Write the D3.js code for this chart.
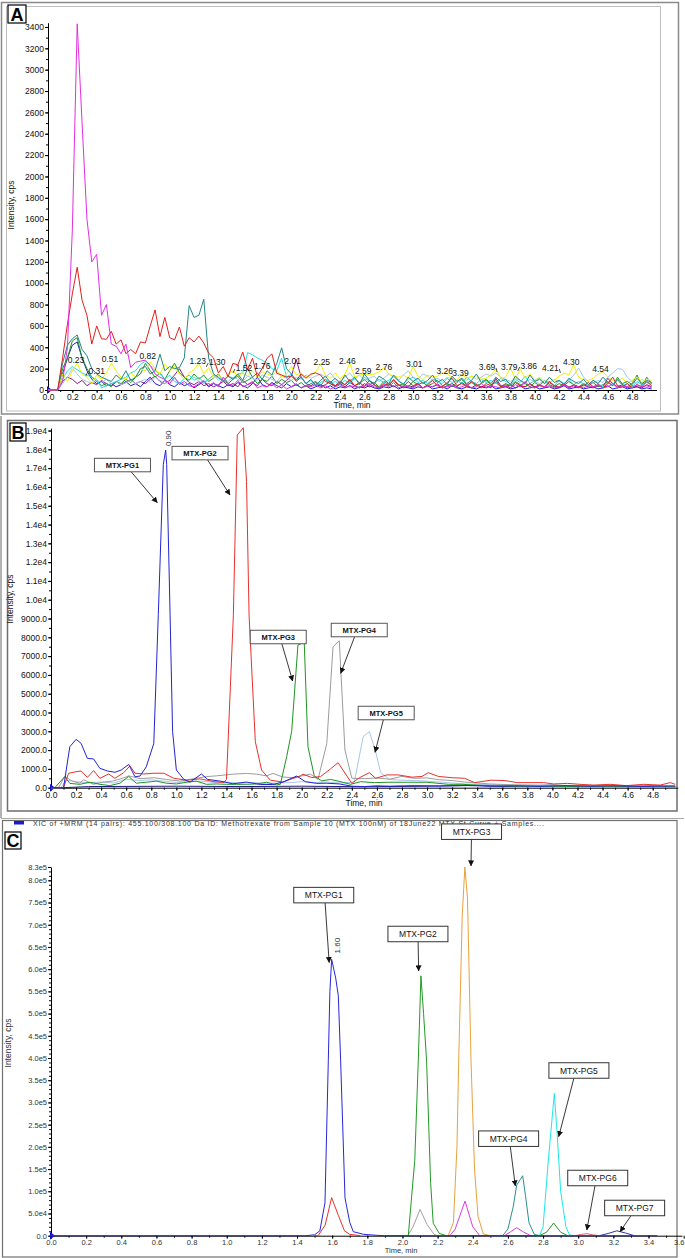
<!DOCTYPE html>
<html>
<head>
<meta charset="utf-8">
<script src="https://cdn.jsdelivr.net/npm/d3@7"></script>
<style>
  body { margin: 0; background: #fff; }
  svg text { font-family: "Liberation Sans", Arial, sans-serif; }
</style>
</head>
<body>
<svg id="fig" width="685" height="1258"></svg>
<script>
// Three XIC chromatogram panels (A: blank noise, B: MTX-PG1..5, C: MTX-PG1..7)

// ---------- Panel A : sampled every 0.04 min ----------
const stepA = 0.04;
const timeA = d3.range(125).map(i => +(i * stepA).toFixed(2));

const magentaA = [
  0, 0, 0, 80, 400, 1500, 3430, 2500, 1600, 1200,
  1270, 700, 800, 430, 410, 340, 430, 210, 260, 270,
  280, 230, 150, 120, 100, 60, 120, 50, 80, 40,
  30, 60, 90, 40, 70, 30, 120, 60, 40, 90,
  30, 50, 80, 20, 40, 30, 60, 20, 50, 10,
  30, 60, 20, 40, 30, 50, 20, 40, 10, 30,
  50, 20, 40, 30, 20, 40, 60, 30, 20, 50,
  30, 70, 20, 40, 30, 20, 50, 20, 40, 30,
  60, 20, 30, 40, 20, 30, 50, 20, 30, 60,
  20, 40, 30, 20, 40, 20, 50, 30, 80, 30,
  20, 50, 30, 40, 20, 30, 50, 20, 40, 30,
  20, 40, 30, 50, 20, 30, 60, 20, 40, 30,
  20, 50, 30, 40, 20
];
const redA = [
  0, 0, 0, 300, 620, 900, 1150, 840, 700, 430,
  600, 480, 475, 550, 430, 470, 340, 380, 340, 450,
  440, 600, 750, 500, 680, 490, 470, 590, 410, 490,
  450, 505, 440, 345, 300, 160, 220, 125, 250, 234,
  356, 190, 297, 125, 203, 297, 338, 156, 140, 120,
  130, 90, 150, 110, 150, 160, 140, 80, 60, 40,
  80, 50, 100, 40, 70, 30, 90, 50, 20, 60,
  40, 100, 50, 30, 80, 40, 60, 20, 50, 90,
  40, 30, 70, 110, 40, 60, 30, 80, 50, 20,
  60, 40, 90, 30, 50, 20, 70, 40, 30, 60,
  30, 50, 20, 80, 40, 30, 60, 20, 50, 30,
  40, 70, 30, 50, 20, 60, 120, 40, 30, 60,
  20, 50, 30, 80, 40
];
const tealA = [
  0, 0, 0, 250, 420, 480, 515, 380, 320, 200,
  150, 120, 100, 80, 140, 100, 180, 90, 120, 200,
  220, 150, 180, 335, 180, 220, 200, 210, 300, 790,
  680, 700, 850, 300, 150, 120, 80, 130, 100, 150,
  90, 200, 120, 160, 100, 180, 140, 250, 395, 200,
  150, 80, 120, 60, 100, 40, 90, 130, 70, 110,
  60, 140, 80, 120, 50, 150, 90, 60, 130, 100,
  60, 140, 90, 50, 120, 80, 110, 60, 90, 140,
  70, 100, 50, 130, 80, 110, 60, 90, 150, 70,
  100, 60, 120, 80, 100, 50, 130, 90, 60, 140,
  80, 100, 60, 120, 70, 90, 50, 110, 80, 60,
  100, 50, 90, 60, 120, 70, 40, 100, 60, 80,
  50, 110, 60, 90, 70
];
const yellowA = [
  0, 0, 0, 150, 80, 180, 250, 150, 120, 60,
  140, 100, 160, 250, 180, 120, 100, 160, 120, 200,
  180, 260, 200, 150, 240, 180, 220, 150, 100, 160,
  190, 250, 150, 210, 110, 140, 100, 150, 180, 130,
  160, 130, 180, 120, 170, 150, 130, 180, 120, 150,
  220, 140, 160, 120, 140, 170, 240, 140, 110, 160,
  100, 150, 250, 120, 140, 150, 140, 150, 170, 210,
  150, 130, 120, 140, 110, 220, 130, 100, 140, 120,
  130, 160, 150, 120, 90, 150, 110, 130, 120, 100,
  110, 140, 200, 110, 120, 210, 100, 200, 110, 150,
  90, 120, 80, 110, 90, 130, 160, 140, 235, 120,
  100, 90, 110, 150, 170, 120, 90, 80, 110, 60,
  90, 120, 70, 100, 90
];
const cyanA = [
  0, 0, 0, 100, 180, 220, 190, 160, 140, 120,
  100, 20, 40, 60, 80, 100, 120, 160, 180, 240,
  270, 230, 180, 150, 100, 140, 80, 60, 110, 140,
  90, 120, 70, 100, 140, 110, 90, 130, 110, 150,
  160, 350, 330, 300, 280, 250, 200, 180, 300, 120,
  150, 100, 120, 60, 90, 40, 70, 100, 60, 80,
  50, 90, 60, 110, 70, 120, 80, 60, 100, 70,
  90, 130, 80, 60, 100, 120, 70, 90, 60, 100,
  80, 60, 110, 70, 90, 60, 120, 80, 60, 100,
  70, 90, 60, 110, 80, 60, 100, 70, 130, 60,
  90, 110, 60, 80, 40, 90, 60, 100, 50, 80,
  60, 40, 90, 60, 30, 70, 50, 90, 40, 60,
  30, 80, 50, 70, 60
];
const lightBlueA = [
  0, 0, 0, 60, 120, 200, 150, 100, 80, 60,
  90, 70, 100, 60, 80, 50, 70, 90, 60, 80,
  100, 70, 120, 90, 60, 80, 110, 70, 60, 90,
  120, 80, 60, 100, 140, 90, 110, 80, 120, 100,
  80, 130, 110, 90, 140, 120, 100, 80, 130, 110,
  90, 120, 100, 140, 110, 130, 150, 120, 160, 100,
  80, 120, 160, 100, 140, 90, 110, 130, 80, 110,
  150, 120, 90, 140, 180, 120, 100, 150, 130, 90,
  110, 80, 120, 100, 70, 110, 90, 130, 100, 120,
  150, 130, 160, 120, 100, 80, 110, 90, 70, 100,
  80, 60, 90, 70, 100, 80, 60, 90, 140, 205,
  120, 80, 60, 90, 70, 120, 160, 200, 195, 120,
  80, 60, 100, 70, 50
];
const greenA = [
  0, 0, 0, 200, 300, 460, 490, 300, 200, 120,
  80, 40, 60, 30, 80, 60, 100, 70, 120, 150,
  250, 180, 120, 160, 100, 180, 250, 160, 120, 90,
  150, 100, 140, 80, 110, 150, 90, 60, 100, 130,
  70, 90, 120, 60, 100, 80, 130, 60, 100, 70,
  90, 40, 70, 30, 60, 80, 40, 100, 60, 30,
  70, 50, 90, 40, 60, 100, 50, 70, 30, 80,
  50, 90, 40, 60, 30, 80, 50, 70, 40, 60,
  90, 40, 60, 30, 70, 100, 50, 70, 40, 60,
  90, 50, 70, 30, 60, 40, 80, 50, 60, 30,
  70, 40, 90, 50, 30, 60, 40, 80, 50, 30,
  60, 40, 70, 30, 50, 80, 40, 120, 50, 30,
  60, 140, 40, 120, 60
];
const blueA = [
  0, 0, 0, 150, 300, 420, 450, 300, 180, 100,
  60, 80, 40, 60, 30, 50, 80, 40, 60, 30,
  80, 120, 60, 40, 90, 50, 30, 70, 40, 60,
  20, 50, 80, 30, 60, 40, 20, 50, 30, 70,
  40, 20, 60, 120, 50, 30, 70, 40, 20, 60,
  30, 50, 20, 40, 10, 30, 50, 20, 40, 10,
  30, 20, 40, 10, 30, 20, 40, 20, 10, 30,
  20, 40, 10, 30, 20, 10, 30, 20, 40, 10,
  20, 30, 10, 40, 20, 10, 30, 20, 10, 30,
  20, 40, 10, 20, 30, 10, 20, 40, 10, 20,
  30, 10, 20, 30, 10, 20, 40, 10, 20, 30,
  10, 20, 30, 10, 20, 40, 10, 20, 30, 10,
  20, 30, 10, 20, 10
];
const purpleA = [
  0, 0, 0, 80, 120, 100, 60, 90, 40, 70,
  50, 90, 60, 40, 80, 50, 70, 100, 60, 80,
  60, 100, 130, 80, 60, 90, 140, 200, 120, 70,
  50, 80, 40, 60, 30, 50, 80, 40, 60, 30,
  90, 50, 70, 40, 100, 60, 40, 80, 50, 90,
  130, 285, 120, 60, 40, 70, 30, 50, 80, 40,
  60, 30, 70, 40, 20, 60, 30, 50, 20, 40,
  60, 30, 50, 20, 40, 30, 60, 20, 40, 30,
  50, 20, 40, 60, 30, 70, 40, 20, 50, 30,
  40, 20, 110, 40, 30, 50, 20, 40, 30, 60,
  20, 40, 30, 70, 40, 20, 50, 30, 40, 20,
  50, 30, 20, 40, 30, 110, 60, 30, 50, 20,
  40, 30, 20, 50, 30
];

// retention-time labels of panel A: [text, label height in cps]
const peakLabelsA = [
  ['0.23', 253], ['0.31', 150], ['0.51', 262], ['0.82', 290], ['1.23', 244],
  ['1.30', 234], ['1.52', 178], ['1.76', 197], ['2.01', 244], ['2.25', 234],
  ['2.46', 244], ['2.59', 150], ['2.76', 187], ['3.01', 215], ['3.26', 150],
  ['3.39', 131], ['3.69', 187], ['3.79', 187], ['3.86', 197], ['4.21', 178],
  ['4.30', 234], ['4.54', 169]
];

const yTicksA = [0, 200, 400, 600, 800, 1000, 1200, 1400, 1600, 1800, 2000, 2200, 2400, 2600, 2800, 3000, 3200, 3400];
const yTickLabelsA = ['0', '200', '400', '600', '800', '1000', '1200', '1400', '1600', '1800', '2000', '2200', '2400', '2600', '2800', '3000', '3200', '3400'];
const xTicksAB = [0, 0.2, 0.4, 0.6, 0.8, 1.0, 1.2, 1.4, 1.6, 1.8, 2.0, 2.2, 2.4, 2.6, 2.8, 3.0, 3.2, 3.4, 3.6, 3.8, 4.0, 4.2, 4.4, 4.6, 4.8];
const xTickLabelsAB = ['0.0', '0.2', '0.4', '0.6', '0.8', '1.0', '1.2', '1.4', '1.6', '1.8', '2.0', '2.2', '2.4', '2.6', '2.8', '3.0', '3.2', '3.4', '3.6', '3.8', '4.0', '4.2', '4.4', '4.6', '4.8'];

// ---------- Panel B : [time, cps] ----------
const blueB = [[0, 0], [0.1, 0], [0.15, 2180], [0.2, 2570], [0.24, 2360], [0.29, 1560], [0.34, 1530], [0.39, 1030],
  [0.45, 890], [0.51, 820], [0.56, 940], [0.62, 1240], [0.67, 580], [0.71, 620], [0.76, 1110], [0.82, 2350],
  [0.856, 9200], [0.896, 17200], [0.915, 17960], [0.923, 17200], [0.95, 9200], [0.97, 3000], [1.0, 940],
  [1.06, 440], [1.11, 300], [1.2, 730], [1.25, 440], [1.35, 350], [1.45, 210], [1.56, 300], [1.67, 170],
  [1.77, 170], [1.85, 300], [1.96, 620], [2.03, 320], [2.12, 230], [2.2, 240], [2.3, 200], [2.4, 80],
  [2.5, 60], [2.6, 100], [2.7, 80], [2.9, 110], [3.1, 90], [3.3, 120], [3.5, 80], [3.7, 100], [3.9, 70],
  [4.1, 110], [4.3, 80], [4.5, 100], [4.7, 70], [4.98, 90]];
const redB = [[0, 0], [0.1, 0], [0.14, 765], [0.2, 850], [0.24, 890], [0.29, 550], [0.34, 910], [0.39, 500],
  [0.46, 730], [0.51, 500], [0.58, 800], [0.63, 1160], [0.67, 770], [0.74, 730], [0.82, 770], [0.9, 770],
  [0.98, 500], [1.08, 400], [1.19, 470], [1.3, 320], [1.38, 280], [1.4, 440], [1.455, 9200], [1.486, 18760],
  [1.534, 19150], [1.56, 16300], [1.58, 9200], [1.63, 2450], [1.68, 940], [1.75, 400], [1.85, 300],
  [1.99, 630], [2.01, 720], [2.08, 540], [2.15, 590], [2.23, 1000], [2.29, 1330], [2.4, 230], [2.46, 530],
  [2.54, 800], [2.59, 500], [2.68, 680], [2.77, 680], [2.88, 560], [2.96, 600], [3.01, 800], [3.09, 600],
  [3.2, 530], [3.3, 500], [3.38, 270], [3.43, 320], [3.51, 400], [3.62, 380], [3.72, 270], [3.83, 270],
  [3.93, 270], [4.01, 200], [4.12, 230], [4.22, 180], [4.33, 140], [4.46, 180], [4.59, 110], [4.73, 180],
  [4.86, 140], [4.94, 270], [4.98, 180]];
const greenB = [[0, 0], [0.03, 0], [0.11, 590], [0.15, 230], [0.23, 180], [0.31, 290], [0.39, 180], [0.47, 110],
  [0.55, 240], [0.62, 600], [0.68, 240], [0.76, 290], [0.84, 350], [0.92, 240], [1.0, 200], [1.08, 290],
  [1.16, 350], [1.24, 180], [1.32, 200], [1.4, 180], [1.48, 180], [1.56, 180], [1.64, 200], [1.72, 290],
  [1.8, 150], [1.83, 180], [1.88, 1650], [1.92, 3000], [1.97, 7590], [2.0, 7680], [2.02, 7770], [2.05, 2180],
  [2.1, 630], [2.16, 360], [2.23, 440], [2.29, 350], [2.39, 180], [2.47, 320], [2.58, 270], [2.69, 290],
  [2.84, 290], [3.0, 290], [3.17, 180], [3.28, 180], [3.5, 100], [3.8, 80], [4.2, 60], [4.6, 50], [4.98, 40]];
const grayB = [[0, 0], [0.06, 0], [0.11, 600], [0.17, 350], [0.23, 240], [0.26, 420], [0.34, 180], [0.41, 290],
  [0.49, 350], [0.57, 500], [0.62, 630], [0.71, 480], [0.82, 530], [0.92, 440], [1.03, 350], [1.14, 480],
  [1.24, 590], [1.32, 630], [1.45, 720], [1.56, 760], [1.64, 720], [1.72, 630], [1.77, 760], [1.85, 570],
  [1.93, 530], [2.07, 720], [2.13, 440], [2.2, 2350], [2.25, 7500], [2.3, 7820], [2.345, 2000], [2.4, 500],
  [2.5, 480], [2.6, 520], [2.7, 450], [2.8, 600], [2.9, 500], [3.0, 520], [3.1, 420], [3.2, 380], [3.3, 300],
  [3.4, 250], [3.5, 200], [3.7, 150], [4.0, 120], [4.5, 100], [4.98, 80]];
const lightBlueB = [[0, 0], [0.08, 0], [0.12, 400], [0.2, 320], [0.3, 260], [0.4, 300], [0.5, 250], [0.6, 450],
  [0.7, 380], [0.8, 420], [0.9, 350], [1.0, 280], [1.1, 320], [1.2, 350], [1.3, 280], [1.4, 300], [1.5, 240],
  [1.6, 280], [1.7, 230], [1.8, 250], [1.9, 270], [2.0, 320], [2.1, 280], [2.2, 300], [2.3, 250], [2.42, 300],
  [2.49, 2710], [2.54, 2980], [2.59, 1910], [2.63, 800], [2.7, 440], [2.8, 400], [2.9, 380], [3.0, 350],
  [3.1, 300], [3.2, 250], [3.3, 200], [3.4, 180], [3.6, 150], [3.8, 130], [4.2, 120], [4.6, 100], [4.98, 80]];
const navyB = [[0, 0], [0.1, 0], [0.3, 60], [1.0, 80], [1.5, 60], [2.0, 80], [2.5, 50], [3.0, 80], [3.4, 120],
  [3.6, 60], [3.8, 100], [4.0, 140], [4.2, 80], [4.4, 120], [4.6, 60], [4.8, 110], [4.98, 60]];

const yTicksB = [0, 1000, 2000, 3000, 4000, 5000, 6000, 7000, 8000, 9000, 10000, 11000, 12000, 13000, 14000, 15000, 16000, 17000, 18000, 19000];
const yTickLabelsB = ['0.0', '1000.0', '2000.0', '3000.0', '4000.0', '5000.0', '6000.0', '7000.0', '8000.0', '9000.0',
  '1.0e4', '1.1e4', '1.2e4', '1.3e4', '1.4e4', '1.5e4', '1.6e4', '1.7e4', '1.8e4', '1.9e4'];

// callouts: tip = arrow point, box = label centre (time, cps)
const calloutsB = [
  { text: 'MTX-PG1', tip: [0.848, 15160], box: [0.570, 17165] },
  { text: 'MTX-PG2', tip: [1.428, 15570], box: [1.189, 17800] },
  { text: 'MTX-PG3', tip: [1.928, 5675], box: [1.813, 8016] },
  { text: 'MTX-PG4', tip: [2.311, 6085], box: [2.459, 8388] },
  { text: 'MTX-PG5', tip: [2.585, 1883], box: [2.674, 3973] }
];

// ---------- Panel C : [time, cps] ----------
const blueC = [[0, 0], [1.45, 0], [1.5, 2000], [1.53, 11000], [1.559, 74000], [1.578, 395000], [1.587, 550000],
  [1.597, 622000], [1.62, 580000], [1.635, 540000], [1.648, 395000], [1.673, 85000], [1.7, 30000],
  [1.72, 9000], [1.78, 3000], [1.85, 1000], [1.9, 0], [3.45, 0]];
const redC = [[1.5, 0], [1.52, 0], [1.56, 24000], [1.597, 85600], [1.635, 46000], [1.67, 11000], [1.7, 3000], [1.76, 0]];
const greenC = [[1.9, 0], [2.033, 0], [2.07, 170000], [2.09, 395000], [2.105, 585000], [2.12, 500000],
  [2.137, 395000], [2.16, 120000], [2.175, 28000], [2.21, 5000], [2.25, 0], [2.78, 0], [2.82, 8000],
  [2.86, 28500], [2.9, 8000], [2.94, 0]];
const grayC = [[2.03, 0], [2.06, 20000], [2.1, 59000], [2.14, 25000], [2.18, 3000], [2.2, 0]];
const orangeC = [[2.26, 0], [2.29, 30000], [2.31, 200000], [2.32, 395000], [2.34, 720000], [2.355, 830000],
  [2.37, 760000], [2.39, 395000], [2.41, 150000], [2.43, 43000], [2.46, 4000], [2.5, 0]];
const magentaC = [[2.27, 0], [2.3, 15000], [2.356, 78000], [2.4, 20000], [2.44, 0], [2.58, 0], [2.62, 10000],
  [2.65, 18000], [2.69, 8000], [2.73, 0]];
const tealC = [[2.54, 0], [2.57, 0], [2.6, 15000], [2.63, 65000], [2.65, 114000], [2.684, 135000], [2.7, 90000],
  [2.72, 29000], [2.75, 3000], [2.78, 0]];
const cyanC = [[2.76, 0], [2.78, 0], [2.8, 20000], [2.83, 170000], [2.864, 320000], [2.88, 230000], [2.9, 100000],
  [2.93, 20000], [2.95, 2000], [2.98, 0]];
const pinkC = [[2.98, 0], [3.02, 3000], [3.05, 4500], [3.08, 2000], [3.12, 0]];
const navyC = [[3.12, 0], [3.17, 5000], [3.22, 11000], [3.27, 6000], [3.32, 0]];

const yTicksC = [0, 50000, 100000, 150000, 200000, 250000, 300000, 350000, 400000, 450000, 500000,
  550000, 600000, 650000, 700000, 750000, 800000, 830000];
const yTickLabelsC = ['0.0', '5.0e4', '1.0e5', '1.5e5', '2.0e5', '2.5e5', '3.0e5', '3.5e5', '4.0e5', '4.5e5',
  '5.0e5', '5.5e5', '6.0e5', '6.5e5', '7.0e5', '7.5e5', '8.0e5', '8.3e5'];
const xTicksC = [0, 0.2, 0.4, 0.6, 0.8, 1.0, 1.2, 1.4, 1.6, 1.8, 2.0, 2.2, 2.4, 2.6, 2.8, 3.0, 3.2, 3.4, 3.6];
const xTickLabelsC = ['0.0', '0.2', '0.4', '0.6', '0.8', '1.0', '1.2', '1.4', '1.6', '1.8', '2.0', '2.2', '2.4',
  '2.6', '2.8', '3.0', '3.2', '3.4', '3.6'];

const calloutsC = [
  { text: 'MTX-PG1', tip: [1.583, 614600], box: [1.552, 766700] },
  { text: 'MTX-PG2', tip: [2.092, 595900], box: [2.088, 679200] },
  { text: 'MTX-PG3', tip: [2.390, 832300], box: [2.393, 909500] },
  { text: 'MTX-PG4', tip: [2.642, 111900], box: [2.604, 218400] },
  { text: 'MTX-PG5', tip: [2.889, 222900], box: [3.004, 371900] },
  { text: 'MTX-PG6', tip: [3.049, 12800], box: [3.111, 129900] },
  { text: 'MTX-PG7', tip: [3.238, 9000], box: [3.321, 62400] }
];

const headerC = 'XIC of +MRM (14 pairs): 455.100/308.100 Da ID: Methotrexate from Sample 10 (MTX 100nM) of 18June22 MTX St Curve + Samples....';

// ---------- drawing ----------
const svg = d3.select('#fig');

svg.append('defs').append('marker')
  .attr('id', 'arrow')
  .attr('viewBox', '0 0 8 8')
  .attr('refX', 7.5)
  .attr('refY', 4)
  .attr('markerWidth', 6)
  .attr('markerHeight', 6)
  .attr('markerUnits', 'userSpaceOnUse')
  .attr('orient', 'auto')
  .append('path')
  .attr('d', 'M0,0 L8,4 L0,8 Z')
  .attr('fill', '#111');

function panelLetter(x, y, w, h, letter) {
  svg.append('rect')
    .attr('x', x).attr('y', y).attr('width', w).attr('height', h)
    .attr('fill', '#fff').attr('stroke', '#000').attr('stroke-width', 1.2);
  svg.append('text')
    .attr('x', x + w / 2).attr('y', y + h - 2)
    .attr('text-anchor', 'middle')
    .attr('font-size', '18px')
    .attr('font-weight', 'bold')
    .text(letter);
}

function drawAxes(x, y, opt) {
  const gx = svg.append('g')
    .attr('transform', `translate(0,${y.range()[0]})`)
    .call(d3.axisBottom(x).tickValues(opt.xMinor).tickSize(2).tickFormat('').tickSizeOuter(0));
  gx.select('.domain').remove();
  const gxl = svg.append('g')
    .attr('class', 'xaxis')
    .attr('transform', `translate(0,${y.range()[0]})`)
    .call(d3.axisBottom(x).tickValues(opt.xTicks).tickSize(3).tickPadding(1).tickSizeOuter(0)
      .tickFormat((d, i) => opt.xLabels[i]))
    .style('font-size', opt.font);
  gxl.selectAll('text').attr('fill', opt.textFill);
  // keep a label that would run past the page edge inside it
  gxl.selectAll('.tick').each(function (d) {
    if (x(d) > 676) d3.select(this).select('text').attr('text-anchor', 'end').attr('x', 684 - x(d));
  });

  const gy = svg.append('g')
    .attr('transform', `translate(${x.range()[0]},0)`)
    .call(d3.axisLeft(y).tickValues(opt.yMinor).tickSize(2).tickFormat('').tickSizeOuter(0));
  gy.select('.domain').remove();
  svg.append('g')
    .attr('transform', `translate(${x.range()[0]},0)`)
    .call(d3.axisLeft(y).tickValues(opt.yTicks).tickSize(3).tickPadding(1).tickSizeOuter(0)
      .tickFormat((d, i) => opt.yLabels[i]))
    .style('font-size', opt.font)
    .selectAll('text').attr('fill', opt.textFill);

  svg.selectAll('.domain').attr('stroke', '#000');

  // small blue start marker at the origin
  const ox = x.range()[0], oy = y.range()[0];
  svg.append('path')
    .attr('d', `M${ox - 1},${oy - 4} L${ox + 4},${oy} L${ox - 1},${oy + 4} Z`)
    .attr('fill', '#1414c8');

  svg.append('text')
    .attr('x', opt.titleX)
    .attr('y', y.range()[0] + opt.titleDy)
    .attr('text-anchor', 'middle')
    .attr('font-size', opt.font)
    .attr('fill', opt.textFill)
    .text('Time, min');

  svg.append('text')
    .attr('transform', `translate(${opt.yTitleX},${opt.yTitleY}) rotate(-90)`)
    .attr('text-anchor', 'middle')
    .attr('font-size', opt.yTitleFont || opt.font)
    .attr('fill', opt.textFill)
    .text('Intensity, cps');
}

function callouts(list, x, y, style) {
  list.forEach(c => {
    const cx = x(c.box[0]), cy = y(c.box[1]);
    const tx = x(c.tip[0]), ty = y(c.tip[1]);
    const w = style.w, h = style.h;
    const sx = cx + Math.max(-w / 2 + 4, Math.min(w / 2 - 4, (tx - cx) * 0.25));
    const sy = cy + h / 2;
    svg.append('line')
      .attr('x1', sx).attr('y1', sy).attr('x2', tx).attr('y2', ty)
      .attr('stroke', '#222').attr('stroke-width', 0.9)
      .attr('marker-end', 'url(#arrow)');
    svg.append('rect')
      .attr('x', cx - w / 2).attr('y', cy - h / 2).attr('width', w).attr('height', h)
      .attr('fill', '#fff').attr('stroke', style.stroke).attr('stroke-width', 1);
    svg.append('text')
      .attr('x', cx).attr('y', cy + style.size * 0.36)
      .attr('text-anchor', 'middle')
      .attr('font-size', style.size + 'px')
      .attr('font-weight', style.weight)
      .attr('fill', '#111')
      .text(c.text);
  });
}

// ===== Panel A =====
svg.append('rect').attr('x', 1.5).attr('y', 2.5).attr('width', 677).attr('height', 411.5)
  .attr('fill', 'none').attr('stroke', '#8a8a8a').attr('stroke-width', 1.5);
svg.append('rect').attr('x', 6.5).attr('y', 6.5).attr('width', 654).attr('height', 404.5)
  .attr('fill', 'none').attr('stroke', '#bdbdbd').attr('stroke-width', 1);

const xA = d3.scaleLinear().domain([0, 5]).range([48, 656.5]);
const yA = d3.scaleLinear().domain([0, 3440]).range([390, 22.7]);

drawAxes(xA, yA, {
  xTicks: xTicksAB, xLabels: xTickLabelsAB, xMinor: d3.range(0, 50).map(i => i / 10),
  yTicks: yTicksA, yLabels: yTickLabelsA, yMinor: d3.range(0, 3500, 100),
  font: '8.5px', textFill: '#111', titleX: 352, titleDy: 18, yTitleX: 14, yTitleY: 205
});

const tracesA = [
  { values: blueA, color: '#1e1ed2' },
  { values: purpleA, color: '#8a1c8a' },
  { values: greenA, color: '#1e961e' },
  { values: lightBlueA, color: '#a9c6ea' },
  { values: cyanA, color: '#22e0e6' },
  { values: yellowA, color: '#f2f200' },
  { values: tealA, color: '#238585' },
  { values: redA, color: '#e0201c' },
  { values: magentaA, color: '#e22ee2' }
];
const lineA = d3.line().x((d, i) => xA(timeA[i])).y(d => yA(d));
svg.append('g').selectAll('path')
  .data(tracesA)
  .enter()
  .append('path')
  .attr('d', d => lineA(d.values))
  .attr('fill', 'none')
  .attr('stroke', d => d.color)
  .attr('stroke-width', 1)
  .attr('stroke-linejoin', 'round');

const nudgeA = { '0.31': 11, '1.30': 11, '1.52': 11, '3.69': -10, '3.86': 11, '4.21': -10 };
peakLabelsA.forEach(([txt, h]) => {
  const px = xA(+txt);
  const dx = nudgeA[txt] || 0;
  const ly = yA(h);
  svg.append('text')
    .attr('x', px + dx).attr('y', ly)
    .attr('text-anchor', 'middle')
    .attr('font-size', '8.5px')
    .attr('fill', '#111')
    .text(txt);
  if (dx) {
    const ex = dx > 0 ? px + dx - 9 : px + dx + 9;
    svg.append('line')
      .attr('x1', ex).attr('y1', ly - 2).attr('x2', px).attr('y2', ly + 2)
      .attr('stroke', '#222').attr('stroke-width', 0.8);
  }
});
panelLetter(8, 5, 18, 18, 'A');

// ===== Panel B =====
svg.append('line').attr('x1', 1).attr('y1', 416).attr('x2', 1).attr('y2', 818)
  .attr('stroke', '#999').attr('stroke-width', 1.5);
svg.append('line').attr('x1', 1).attr('y1', 818.5).attr('x2', 684).attr('y2', 818.5)
  .attr('stroke', '#aaa').attr('stroke-width', 1);
svg.append('rect').attr('x', 7.5).attr('y', 420.5).attr('width', 669.5).attr('height', 390.5)
  .attr('fill', 'none').attr('stroke', '#6e6e6e').attr('stroke-width', 1.5);

const xB = d3.scaleLinear().domain([0, 5]).range([51, 677.75]);
const yB = d3.scaleLinear().domain([0, 19130]).range([787.7, 428.1]);

drawAxes(xB, yB, {
  xTicks: xTicksAB, xLabels: xTickLabelsAB, xMinor: d3.range(0, 50).map(i => i / 10),
  yTicks: yTicksB, yLabels: yTickLabelsB, yMinor: d3.range(0, 19500, 500),
  font: '8.5px', textFill: '#111', titleX: 364, titleDy: 18, yTitleX: 13, yTitleY: 599
});

const tracesB = [
  { values: navyB, color: '#1a1a78' },
  { values: lightBlueB, color: '#a8c6ec' },
  { values: grayB, color: '#9c9c9c' },
  { values: greenB, color: '#1f9421' },
  { values: redB, color: '#e8312c' },
  { values: blueB, color: '#2424d4' }
];
const lineB = d3.line().x(d => xB(d[0])).y(d => yB(d[1]));
svg.append('g').selectAll('path')
  .data(tracesB)
  .enter()
  .append('path')
  .attr('d', d => lineB(d.values))
  .attr('fill', 'none')
  .attr('stroke', d => d.color)
  .attr('stroke-width', 1)
  .attr('stroke-linejoin', 'round');

// apex label of PG1
svg.append('text')
  .attr('transform', `translate(${xB(0.915) + 5},${yB(17960) - 4}) rotate(-90)`)
  .attr('font-size', '8px')
  .attr('fill', '#333')
  .text('0.90');

callouts(calloutsB, xB, yB, { w: 56, h: 13.5, size: 7.5, weight: 'bold', stroke: '#555' });
panelLetter(10, 423, 16, 18, 'B');

// ===== Panel C =====
svg.append('rect').attr('x', 2.5).attr('y', 820.5).attr('width', 674.5).attr('height', 436.5)
  .attr('fill', 'none').attr('stroke', '#707070').attr('stroke-width', 1.2);

svg.append('rect').attr('x', 14).attr('y', 821).attr('width', 10).attr('height', 3.5).attr('fill', '#1c1cc8');
svg.append('text')
  .attr('x', 33).attr('y', 826)
  .attr('font-size', '7px')
  .attr('fill', '#333')
  .attr('textLength', 511)
  .attr('lengthAdjust', 'spacing')
  .text(headerC);

const xC = d3.scaleLinear().domain([0, 3.59]).range([51, 681.9]);
const yC = d3.scaleLinear().domain([0, 830000]).range([1235.7, 867]);

drawAxes(xC, yC, {
  xTicks: xTicksC, xLabels: xTickLabelsC, xMinor: d3.range(0, 36).map(i => i / 10),
  yTicks: yTicksC, yLabels: yTickLabelsC, yMinor: d3.range(0, 840000, 10000),
  font: '7.5px', yTitleFont: '8.5px', textFill: '#333', titleX: 401, titleDy: 17, yTitleX: 11, yTitleY: 1043
});

const tracesC = [
  { values: grayC, color: '#a0a0a0' },
  { values: magentaC, color: '#de3ade' },
  { values: pinkC, color: '#e0607a' },
  { values: navyC, color: '#3434a8' },
  { values: tealC, color: '#2a9090' },
  { values: cyanC, color: '#1ee6ea' },
  { values: orangeC, color: '#e8a23e' },
  { values: greenC, color: '#229a24' },
  { values: redC, color: '#e8322e' },
  { values: blueC, color: '#2626dc' }
];
const lineC = d3.line().x(d => xC(d[0])).y(d => yC(d[1]));
svg.append('g').selectAll('path')
  .data(tracesC)
  .enter()
  .append('path')
  .attr('d', d => lineC(d.values))
  .attr('fill', 'none')
  .attr('stroke', d => d.color)
  .attr('stroke-width', 1)
  .attr('stroke-linejoin', 'round');

svg.append('text')
  .attr('transform', `translate(${xC(1.597) + 8},${yC(622000) - 6}) rotate(-90)`)
  .attr('font-size', '8px')
  .attr('fill', '#333')
  .text('1.60');

callouts(calloutsC, xC, yC, { w: 60, h: 15.5, size: 8.5, weight: 'normal', stroke: '#333' });
panelLetter(5, 832, 16, 17, 'C');
</script>
</body>
</html>
